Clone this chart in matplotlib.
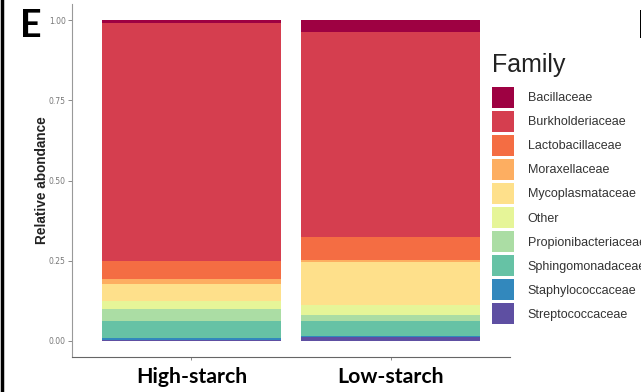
import matplotlib
matplotlib.use("Agg")
import matplotlib.pyplot as plt
from matplotlib.patches import Patch
import numpy as np

# relative abundance per family (stacked, first family drawn on top)
families = ["Bacillaceae", "Burkholderiaceae", "Lactobacillaceae", "Moraxellaceae",
            "Mycoplasmataceae", "Other", "Propionibacteriaceae", "Sphingomonadaceae",
            "Staphylococcaceae", "Streptococcaceae"]
groups = ["High-starch", "Low-starch"]
high_starch = [0.010, 0.740, 0.058, 0.015, 0.052, 0.025, 0.037, 0.053, 0.006, 0.004]
low_starch = [0.036, 0.641, 0.071, 0.005, 0.135, 0.030, 0.020, 0.048, 0.002, 0.012]

# RColorBrewer Spectral, 10 classes
colors = ["#9E0142", "#D53E4F", "#F46D43", "#FDAE61", "#FEE08B",
          "#E6F598", "#ABDDA4", "#66C2A5", "#3288BD", "#5E4FA2"]

W, H = 641, 392
fig = plt.figure(figsize=(W / 100, H / 100), dpi=100)
ax = fig.add_axes([72 / W, 35 / H, (510 - 72) / W, (388 - 35) / H])

vals = np.array([high_starch, low_starch])  # shape (groups, families)
x = np.arange(1, len(groups) + 1)
bottom = np.zeros(len(groups))
# stack from the last family up so the first one sits on top
for i in range(len(families) - 1, -1, -1):
    ax.bar(x, vals[:, i], width=0.9, bottom=bottom, color=colors[i],
           edgecolor="none")
    bottom += vals[:, i]

ax.set_xlim(0.4, 2.6)
ax.set_ylim(-0.05, 1.05)
ax.set_yticks([0, 0.25, 0.5, 0.75, 1.0])
ax.set_yticklabels(["0.00", "0.25", "0.50", "0.75", "1.00"])
ax.set_xticks(x)
ax.set_xticklabels(groups, fontfamily="Lato", fontweight="bold", fontsize=15.3)
ax.tick_params(axis="y", labelsize=5.5, labelcolor="#777777", color="#777777",
               length=3, width=0.6, pad=1.5)
ax.tick_params(axis="x", color="#777777", length=2, width=0.6, pad=5)
for s in ["top", "right"]:
    ax.spines[s].set_visible(False)
ax.spines["left"].set_color("#999999")
ax.spines["bottom"].set_color("#666666")
for s in ["left", "bottom"]:
    ax.spines[s].set_linewidth(0.8)
ax.set_ylabel("Relative abondance", fontsize=9.8, fontweight="bold",
              fontfamily="Liberation Sans", color="#222222")
ax.yaxis.set_label_coords(-0.053, 0.5)

# legend: title as its own text, keys below it
fig.text(492 / W, 1 - 72 / H, "Family", fontsize=18, color="#222222",
         fontfamily="Liberation Sans", ha="left", va="baseline")
handles = [Patch(facecolor=c, edgecolor="none") for c in colors]
leg = fig.legend(handles, families, loc="upper left",
                 bbox_to_anchor=(492 / W, 1 - 87 / H), frameon=False,
                 prop={"family": "Liberation Sans", "size": 9},
                 handlelength=1.75, handleheight=2.21, labelspacing=0.24,
                 handletextpad=1.1, borderaxespad=0, borderpad=0)
for t in leg.get_texts():
    t.set_color("#333333")

# panel letters
fig.text(20 / W, 1 - 37 / H, "E", fontsize=27, fontweight="bold",
         fontfamily="Lato", ha="left", va="baseline")
fig.text(636.5 / W, 1 - 38 / H, "F", fontsize=27, fontweight="bold",
         fontfamily="Lato", ha="left", va="baseline")

# panel frame on the left
fig.add_artist(plt.Line2D([1.5 / W, 1.5 / W], [0, 1], color="black",
                          linewidth=2.5, transform=fig.transFigure))

fig.savefig("out.png", dpi=100)
